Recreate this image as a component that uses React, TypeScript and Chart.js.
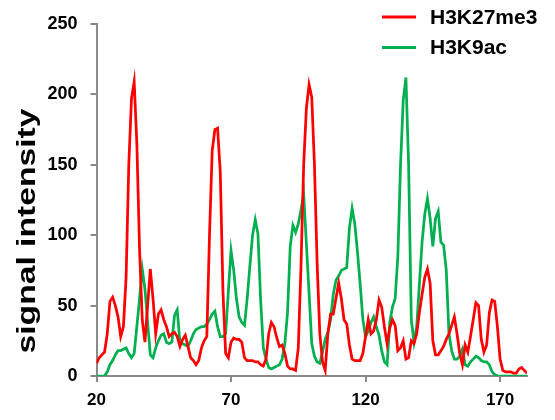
import React, { useEffect, useRef } from "react";
import { Chart, registerables } from "chart.js";

Chart.register(...registerables);

// ---------- data ----------
const xStart = 20; // first position; one value per unit position
const xTickValues = [20, 70, 120, 170];
const yTickStep = 50;
const yMax = 250;
const xMax = 180;

const seriesNames = ["H3K27me3", "H3K9ac"];
const seriesColors = ["#FF0000", "#00B050"];
const yTitle = "signal intensity";

const h3k27me3 = [
  9, 13, 15, 17, 30, 53, 56, 50, 42, 28,
  35, 70, 150, 197, 209, 165, 90, 40, 24, 50,
  76, 55, 30, 44, 47, 40, 35, 28, 30, 31,
  28, 21, 26, 29, 21, 13, 11, 8, 11, 20,
  25, 28, 100, 160, 175, 176, 145, 60, 16, 13,
  24, 27, 26, 26, 24, 13, 11, 11, 11, 10,
  10, 8, 7, 12, 30, 38, 35, 27, 21, 22,
  16, 7, 5, 5, 4, 20, 78, 150, 190, 207,
  198, 150, 80, 30, 10, 4, 30, 44, 44, 55,
  66, 55, 40, 37, 22, 12, 11, 11, 11, 16,
  28, 40, 30, 32, 40, 54, 49, 35, 23, 34,
  40, 36, 18, 20, 25, 12, 13, 25, 23, 30,
  45, 58, 70, 76, 66, 25, 15, 15, 18, 21,
  26, 30, 36, 42, 30, 16, 8, 22, 17, 28,
  40, 52, 50, 26, 17, 22, 45, 54, 53, 35,
  12, 4, 3, 3, 3, 2, 2, 5, 6, 4,
  2,
];

const h3k9ac = [
  0, 0, 0, 0, 3, 8, 11, 15, 18, 18,
  19, 20, 16, 13, 16, 35, 55, 76, 62, 38,
  15, 13, 20, 25, 29, 30, 24, 23, 24, 43,
  47, 24, 23, 22, 21, 25, 30, 33, 34, 35,
  35, 37, 40, 44, 46, 35, 28, 28, 30, 60,
  89, 75, 55, 42, 38, 36, 55, 78, 100, 111,
  101, 54, 20, 12, 6, 5, 6, 7, 8, 12,
  23, 45, 92, 107, 102, 108, 118, 129, 94, 59,
  23, 14, 10, 9, 17, 26, 31, 40, 58, 68,
  71, 75, 76, 77, 105, 119, 108, 88, 65, 40,
  28, 32, 38, 42, 35, 29, 18, 10, 8, 38,
  49, 55, 85, 150, 196, 212, 150, 40, 24, 35,
  65, 95, 115, 126, 112, 92, 112, 117, 95, 93,
  75, 30, 18, 12, 12, 14, 19, 8, 7, 10,
  12, 14, 13, 11, 10, 10, 8, 3, 1, 0,
  0, 0, 0, 0, 0, 0, 0, 0, 0, 0,
  0,
];

// ---------- styling ----------
const FONT = '"Liberation Sans", Arial, Helvetica, sans-serif';
const AXIS_GRAY = "#898989";

const toPoints = (vals: number[]) =>
  vals.map((v, i) => ({ x: xStart + i, y: v }));

const overlayPlugin = {
  id: "overlay",
  afterDraw(chart: any) {
    const ctx = chart.ctx as CanvasRenderingContext2D;
    // y-axis title (rotated)
    ctx.save();
    ctx.font = `bold 26px ${FONT}`;
    const w = ctx.measureText(yTitle).width;
    ctx.translate(28, 231);
    ctx.rotate(-Math.PI / 2);
    ctx.scale(245 / w, 1);
    ctx.fillStyle = "#000";
    ctx.textAlign = "center";
    ctx.textBaseline = "middle";
    ctx.fillText(yTitle, 0, 0);
    ctx.restore();

    // legend
    ctx.save();
    const rows = [17, 47.5];
    seriesNames.forEach((name, i) => {
      const y = rows[i];
      ctx.strokeStyle = seriesColors[i];
      ctx.lineWidth = 3;
      ctx.beginPath();
      ctx.moveTo(382, y);
      ctx.lineTo(416, y);
      ctx.stroke();
      ctx.font = `bold 21px ${FONT}`;
      ctx.fillStyle = "#000";
      ctx.textAlign = "left";
      ctx.textBaseline = "middle";
      ctx.fillText(name, 430, y + 1);
    });
    ctx.restore();
  },
};

export default function App() {
  const canvasRef = useRef<HTMLCanvasElement | null>(null);

  useEffect(() => {
    if (!canvasRef.current) return;
    const chart = new Chart(canvasRef.current, {
      type: "line",
      data: {
        datasets: [
          {
            label: seriesNames[0],
            data: toPoints(h3k27me3),
            borderColor: seriesColors[0],
            backgroundColor: seriesColors[0],
            borderWidth: 2.75,
            pointRadius: 0,
            tension: 0,
            fill: false,
          },
          {
            label: seriesNames[1],
            data: toPoints(h3k9ac),
            borderColor: seriesColors[1],
            backgroundColor: seriesColors[1],
            borderWidth: 2.75,
            pointRadius: 0,
            tension: 0,
            fill: false,
          },
        ],
      },
      options: {
        animation: false,
        responsive: true,
        maintainAspectRatio: false,
        layout: { padding: { top: 24, right: 28, left: 0, bottom: 0 } },
        plugins: {
          legend: { display: false },
          tooltip: { enabled: false },
          title: { display: false },
        },
        scales: {
          x: {
            type: "linear",
            min: xStart,
            max: xMax,
            afterBuildTicks: (scale: any) => {
              scale.ticks = xTickValues.map((v) => ({ value: v }));
            },
            afterFit: (scale: any) => {
              scale.height = 44;
            },
            grid: {
              display: true,
              drawOnChartArea: false,
              drawTicks: true,
              tickLength: 6,
              color: AXIS_GRAY,
              lineWidth: 2,
            },
            border: { display: true, color: AXIS_GRAY, width: 2 },
            ticks: {
              color: "#000",
              font: { family: FONT, size: 17, weight: "bold" },
              padding: 8,
              maxRotation: 0,
              autoSkip: false,
            },
          },
          y: {
            type: "linear",
            min: 0,
            max: yMax,
            afterFit: (scale: any) => {
              scale.width = 96.5;
            },
            grid: {
              display: true,
              drawOnChartArea: false,
              drawTicks: true,
              tickLength: 6,
              color: AXIS_GRAY,
              lineWidth: 2,
            },
            border: { display: true, color: AXIS_GRAY, width: 2 },
            ticks: {
              stepSize: yTickStep,
              color: "#000",
              font: { family: FONT, size: 18, weight: "bold" },
              padding: 13,
            },
          },
        },
      },
      plugins: [overlayPlugin],
    } as any);
    return () => chart.destroy();
  }, []);

  return (
    <div
      style={{
        position: "fixed",
        left: 0,
        top: 0,
        width: 555,
        height: 420,
        background: "#fff",
      }}
    >
      <canvas ref={canvasRef} />
    </div>
  );
}
